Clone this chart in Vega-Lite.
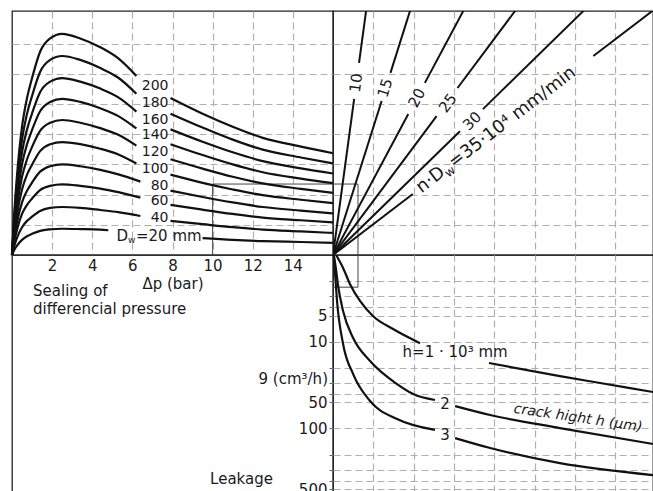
{
  "$schema": "https://vega.github.io/schema/vega-lite/v6.json",
  "padding": {"left": 6, "top": 10, "right": 0, "bottom": 0},
  "background": "white",
  "spacing": 0,
  "bounds": "flush",
  "columns": 2,
  "config": {
    "view": {"stroke": "#222", "strokeWidth": 1.3},
    "font": "DejaVu Sans",
    "text": {"font": "DejaVu Sans", "fontSize": 15, "color": "#1a1a1a"},
    "line": {"color": "#111", "strokeWidth": 2.2},
    "axis": {
      "gridColor": "#b0b0b0", "gridDash": [7, 4], "gridWidth": 1.2,
      "domain": false, "ticks": false, "labels": false, "minExtent": 0,
      "labelFont": "DejaVu Sans", "labelFontSize": 15, "labelColor": "#1a1a1a",
      "titleFont": "DejaVu Sans", "titleFontSize": 15, "titleFontWeight": "normal", "titleColor": "#1a1a1a"
    }
  },
  "datasets": {
    "tl_curves": [
      {"D":200,"s":"a","dp":0,"v":0},{"D":200,"s":"a","dp":0.1,"v":1.24},{"D":200,"s":"a","dp":0.25,"v":2.64},{"D":200,"s":"a","dp":0.5,"v":4.25},{"D":200,"s":"a","dp":0.75,"v":5.2},{"D":200,"s":"a","dp":1.0,"v":5.86},{"D":200,"s":"a","dp":1.4,"v":6.73},{"D":200,"s":"a","dp":1.9,"v":7.17},{"D":200,"s":"a","dp":2.5,"v":7.32},{"D":200,"s":"a","dp":3.4,"v":7.17},{"D":200,"s":"a","dp":4.4,"v":6.88},{"D":200,"s":"a","dp":5.3,"v":6.51},{"D":200,"s":"a","dp":6.2,"v":5.93},
      {"D":200,"s":"b","dp":7.9,"v":5.2},{"D":200,"s":"b","dp":9.5,"v":4.68},{"D":200,"s":"b","dp":11,"v":4.25},{"D":200,"s":"b","dp":12.5,"v":3.88},{"D":200,"s":"b","dp":14.4,"v":3.59},{"D":200,"s":"b","dp":16,"v":3.37},
      {"D":180,"s":"a","dp":0,"v":0},{"D":180,"s":"a","dp":0.1,"v":1.12},{"D":180,"s":"a","dp":0.25,"v":2.37},{"D":180,"s":"a","dp":0.5,"v":3.82},{"D":180,"s":"a","dp":0.75,"v":4.68},{"D":180,"s":"a","dp":1.0,"v":5.27},{"D":180,"s":"a","dp":1.4,"v":6.06},{"D":180,"s":"a","dp":1.9,"v":6.46},{"D":180,"s":"a","dp":2.5,"v":6.59},{"D":180,"s":"a","dp":3.4,"v":6.46},{"D":180,"s":"a","dp":4.4,"v":6.19},{"D":180,"s":"a","dp":5.3,"v":5.87},{"D":180,"s":"a","dp":6.2,"v":5.34},
      {"D":180,"s":"b","dp":7.9,"v":4.68},{"D":180,"s":"b","dp":9.5,"v":4.22},{"D":180,"s":"b","dp":11,"v":3.82},{"D":180,"s":"b","dp":12.5,"v":3.49},{"D":180,"s":"b","dp":14.4,"v":3.23},{"D":180,"s":"b","dp":16,"v":3.03},
      {"D":160,"s":"a","dp":0,"v":0},{"D":160,"s":"a","dp":0.1,"v":1.0},{"D":160,"s":"a","dp":0.25,"v":2.11},{"D":160,"s":"a","dp":0.5,"v":3.4},{"D":160,"s":"a","dp":0.75,"v":4.16},{"D":160,"s":"a","dp":1.0,"v":4.69},{"D":160,"s":"a","dp":1.4,"v":5.39},{"D":160,"s":"a","dp":1.9,"v":5.74},{"D":160,"s":"a","dp":2.5,"v":5.86},{"D":160,"s":"a","dp":3.4,"v":5.74},{"D":160,"s":"a","dp":4.4,"v":5.51},{"D":160,"s":"a","dp":5.3,"v":5.22},{"D":160,"s":"a","dp":6.2,"v":4.75},
      {"D":160,"s":"b","dp":7.9,"v":4.16},{"D":160,"s":"b","dp":9.5,"v":3.75},{"D":160,"s":"b","dp":11,"v":3.4},{"D":160,"s":"b","dp":12.5,"v":3.11},{"D":160,"s":"b","dp":14.4,"v":2.87},{"D":160,"s":"b","dp":16,"v":2.7},
      {"D":140,"s":"a","dp":0,"v":0},{"D":140,"s":"a","dp":0.1,"v":0.88},{"D":140,"s":"a","dp":0.25,"v":1.86},{"D":140,"s":"a","dp":0.5,"v":3.0},{"D":140,"s":"a","dp":0.75,"v":3.67},{"D":140,"s":"a","dp":1.0,"v":4.14},{"D":140,"s":"a","dp":1.4,"v":4.76},{"D":140,"s":"a","dp":1.9,"v":5.07},{"D":140,"s":"a","dp":2.5,"v":5.17},{"D":140,"s":"a","dp":3.4,"v":5.07},{"D":140,"s":"a","dp":4.4,"v":4.86},{"D":140,"s":"a","dp":5.3,"v":4.6},{"D":140,"s":"a","dp":6.2,"v":4.19},
      {"D":140,"s":"b","dp":7.9,"v":3.67},{"D":140,"s":"b","dp":9.5,"v":3.31},{"D":140,"s":"b","dp":11,"v":3.0},{"D":140,"s":"b","dp":12.5,"v":2.74},{"D":140,"s":"b","dp":14.4,"v":2.53},{"D":140,"s":"b","dp":16,"v":2.38},
      {"D":120,"s":"a","dp":0,"v":0},{"D":120,"s":"a","dp":0.1,"v":0.76},{"D":120,"s":"a","dp":0.25,"v":1.61},{"D":120,"s":"a","dp":0.5,"v":2.59},{"D":120,"s":"a","dp":0.75,"v":3.17},{"D":120,"s":"a","dp":1.0,"v":3.58},{"D":120,"s":"a","dp":1.4,"v":4.11},{"D":120,"s":"a","dp":1.9,"v":4.38},{"D":120,"s":"a","dp":2.5,"v":4.47},{"D":120,"s":"a","dp":3.4,"v":4.38},{"D":120,"s":"a","dp":4.4,"v":4.2},{"D":120,"s":"a","dp":5.3,"v":3.98},{"D":120,"s":"a","dp":6.2,"v":3.62},
      {"D":120,"s":"b","dp":7.9,"v":3.17},{"D":120,"s":"b","dp":9.5,"v":2.86},{"D":120,"s":"b","dp":11,"v":2.59},{"D":120,"s":"b","dp":12.5,"v":2.37},{"D":120,"s":"b","dp":14.4,"v":2.19},{"D":120,"s":"b","dp":16,"v":2.06},
      {"D":100,"s":"a","dp":0,"v":0},{"D":100,"s":"a","dp":0.1,"v":0.64},{"D":100,"s":"a","dp":0.25,"v":1.35},{"D":100,"s":"a","dp":0.5,"v":2.17},{"D":100,"s":"a","dp":0.75,"v":2.66},{"D":100,"s":"a","dp":1.0,"v":2.99},{"D":100,"s":"a","dp":1.4,"v":3.44},{"D":100,"s":"a","dp":1.9,"v":3.67},{"D":100,"s":"a","dp":2.5,"v":3.74},{"D":100,"s":"a","dp":3.4,"v":3.67},{"D":100,"s":"a","dp":4.4,"v":3.52},{"D":100,"s":"a","dp":5.3,"v":3.33},{"D":100,"s":"a","dp":6.2,"v":3.03},
      {"D":100,"s":"b","dp":7.9,"v":2.66},{"D":100,"s":"b","dp":9.5,"v":2.39},{"D":100,"s":"b","dp":11,"v":2.17},{"D":100,"s":"b","dp":12.5,"v":1.98},{"D":100,"s":"b","dp":14.4,"v":1.83},{"D":100,"s":"b","dp":16,"v":1.72},
      {"D":80,"s":"a","dp":0,"v":0},{"D":80,"s":"a","dp":0.1,"v":0.51},{"D":80,"s":"a","dp":0.25,"v":1.08},{"D":80,"s":"a","dp":0.5,"v":1.74},{"D":80,"s":"a","dp":0.75,"v":2.13},{"D":80,"s":"a","dp":1.0,"v":2.4},{"D":80,"s":"a","dp":1.4,"v":2.76},{"D":80,"s":"a","dp":1.9,"v":2.94},{"D":80,"s":"a","dp":2.5,"v":3.0},{"D":80,"s":"a","dp":3.4,"v":2.94},{"D":80,"s":"a","dp":4.4,"v":2.82},{"D":80,"s":"a","dp":5.3,"v":2.67},{"D":80,"s":"a","dp":6.4,"v":2.43},
      {"D":80,"s":"b","dp":7.9,"v":2.13},{"D":80,"s":"b","dp":9.5,"v":1.92},{"D":80,"s":"b","dp":11,"v":1.74},{"D":80,"s":"b","dp":12.5,"v":1.59},{"D":80,"s":"b","dp":14.4,"v":1.47},{"D":80,"s":"b","dp":16,"v":1.38},
      {"D":60,"s":"a","dp":0,"v":0},{"D":60,"s":"a","dp":0.1,"v":0.4},{"D":60,"s":"a","dp":0.25,"v":0.84},{"D":60,"s":"a","dp":0.5,"v":1.36},{"D":60,"s":"a","dp":0.75,"v":1.66},{"D":60,"s":"a","dp":1.0,"v":1.87},{"D":60,"s":"a","dp":1.4,"v":2.15},{"D":60,"s":"a","dp":1.9,"v":2.29},{"D":60,"s":"a","dp":2.5,"v":2.34},{"D":60,"s":"a","dp":3.4,"v":2.29},{"D":60,"s":"a","dp":4.4,"v":2.2},{"D":60,"s":"a","dp":5.3,"v":2.08},{"D":60,"s":"a","dp":6.4,"v":1.9},
      {"D":60,"s":"b","dp":7.9,"v":1.66},{"D":60,"s":"b","dp":9.5,"v":1.5},{"D":60,"s":"b","dp":11,"v":1.36},{"D":60,"s":"b","dp":12.5,"v":1.24},{"D":60,"s":"b","dp":14.4,"v":1.15},{"D":60,"s":"b","dp":16,"v":1.08},
      {"D":40,"s":"a","dp":0,"v":0},{"D":40,"s":"a","dp":0.1,"v":0.27},{"D":40,"s":"a","dp":0.25,"v":0.57},{"D":40,"s":"a","dp":0.5,"v":0.92},{"D":40,"s":"a","dp":0.75,"v":1.13},{"D":40,"s":"a","dp":1.0,"v":1.27},{"D":40,"s":"a","dp":1.4,"v":1.46},{"D":40,"s":"a","dp":1.9,"v":1.56},{"D":40,"s":"a","dp":2.5,"v":1.59},{"D":40,"s":"a","dp":3.4,"v":1.56},{"D":40,"s":"a","dp":4.4,"v":1.49},{"D":40,"s":"a","dp":5.3,"v":1.42},{"D":40,"s":"a","dp":6.4,"v":1.29},
      {"D":40,"s":"b","dp":7.9,"v":1.13},{"D":40,"s":"b","dp":9.5,"v":1.02},{"D":40,"s":"b","dp":11,"v":0.92},{"D":40,"s":"b","dp":12.5,"v":0.84},{"D":40,"s":"b","dp":14.4,"v":0.78},{"D":40,"s":"b","dp":16,"v":0.73},
      {"D":20,"s":"a","dp":0,"v":0},{"D":20,"s":"a","dp":0.1,"v":0.15},{"D":20,"s":"a","dp":0.25,"v":0.31},{"D":20,"s":"a","dp":0.5,"v":0.5},{"D":20,"s":"a","dp":0.75,"v":0.62},{"D":20,"s":"a","dp":1.0,"v":0.7},{"D":20,"s":"a","dp":1.4,"v":0.8},{"D":20,"s":"a","dp":1.9,"v":0.85},{"D":20,"s":"a","dp":2.5,"v":0.87},{"D":20,"s":"a","dp":3.4,"v":0.86},{"D":20,"s":"a","dp":4.4,"v":0.84},{"D":20,"s":"a","dp":4.8,"v":0.82},
      {"D":20,"s":"b","dp":9.5,"v":0.56},{"D":20,"s":"b","dp":11,"v":0.5},{"D":20,"s":"b","dp":12.5,"v":0.46},{"D":20,"s":"b","dp":14.4,"v":0.43},{"D":20,"s":"b","dp":16,"v":0.4}
    ],
    "tl_labels": [
      {"label":"200","dp":7.8,"v":5.6},{"label":"180","dp":7.8,"v":5.04},{"label":"160","dp":7.8,"v":4.48},
      {"label":"140","dp":7.8,"v":3.96},{"label":"120","dp":7.8,"v":3.42},{"label":"100","dp":7.8,"v":2.86},
      {"label":"80","dp":7.8,"v":2.3},{"label":"60","dp":7.8,"v":1.79},{"label":"40","dp":7.8,"v":1.22}
    ],
    "tl_dw": [{"dp":6.18,"v":0.63}],
    "tl_path": [{"i":1,"dp":10,"v":0},{"i":2,"dp":10,"v":2.35},{"i":3,"dp":16,"v":2.35}],
    "tr_lines": [
      {"n":10,"s":"a","u":0,"v":0},{"n":10,"s":"a","u":0.525,"v":5.17},{"n":10,"s":"b","u":0.646,"v":6.36},{"n":10,"s":"b","u":0.843,"v":8.3},
      {"n":15,"s":"a","u":0,"v":0},{"n":15,"s":"a","u":1.206,"v":5.1},{"n":15,"s":"b","u":1.426,"v":6.03},{"n":15,"s":"b","u":1.962,"v":8.3},
      {"n":20,"s":"a","u":0,"v":0},{"n":20,"s":"a","u":1.868,"v":4.67},{"n":20,"s":"b","u":2.28,"v":5.7},{"n":20,"s":"b","u":3.32,"v":8.3},
      {"n":25,"s":"a","u":0,"v":0},{"n":25,"s":"a","u":2.57,"v":4.6},{"n":25,"s":"b","u":3.09,"v":5.53},{"n":25,"s":"b","u":4.64,"v":8.3},
      {"n":30,"s":"a","u":0,"v":0},{"n":30,"s":"a","u":3.15,"v":4.1},{"n":30,"s":"b","u":3.72,"v":4.83},{"n":30,"s":"b","u":6.38,"v":8.3},
      {"n":35,"s":"a","u":0,"v":0},{"n":35,"s":"a","u":1.98,"v":2.02},{"n":35,"s":"b","u":6.46,"v":6.59},{"n":35,"s":"b","u":8.14,"v":8.3}
    ],
    "tr_labels": [
      {"label":"10","u":0.57,"v":5.7},{"label":"15","u":1.29,"v":5.53},{"label":"20","u":2.08,"v":5.2},
      {"label":"25","u":2.85,"v":5.03},{"label":"30","u":3.45,"v":4.44}
    ],
    "tr_formula": [{"u":2.08,"v":2.13}],
    "tr_path": [{"i":1,"u":0,"v":2.35},{"i":2,"u":0.62,"v":2.35},{"i":3,"u":0.62,"v":0}],
    "br_curves": [
      {"h":1,"s":"a","u":0.08,"q":1.0},{"h":1,"s":"a","u":0.15,"q":1.15},{"h":1,"s":"a","u":0.25,"q":1.41},{"h":1,"s":"a","u":0.42,"q":2.16},{"h":1,"s":"a","u":0.67,"q":3.39},{"h":1,"s":"a","u":0.99,"q":5.05},{"h":1,"s":"a","u":1.49,"q":7.14},{"h":1,"s":"a","u":2.16,"q":10.4},
      {"h":1,"s":"b","u":3.87,"q":17.6},{"h":1,"s":"b","u":5.63,"q":24.9},{"h":1,"s":"b","u":6.63,"q":29.9},{"h":1,"s":"b","u":7.94,"q":38.0},
      {"h":2,"s":"a","u":0.02,"q":1.0},{"h":2,"s":"a","u":0.07,"q":1.41},{"h":2,"s":"a","u":0.12,"q":2.16},{"h":2,"s":"a","u":0.25,"q":4.43},{"h":2,"s":"a","u":0.5,"q":9.06},{"h":2,"s":"a","u":0.92,"q":16.7},{"h":2,"s":"a","u":1.59,"q":30.8},{"h":2,"s":"a","u":1.99,"q":40.1},{"h":2,"s":"a","u":2.53,"q":47.0},
      {"h":2,"s":"b","u":3.03,"q":55.2},{"h":2,"s":"b","u":3.9,"q":70.0},{"h":2,"s":"b","u":5.63,"q":98.9},{"h":2,"s":"b","u":7.94,"q":151},
      {"h":3,"s":"a","u":0.02,"q":1.0},{"h":3,"s":"a","u":0.05,"q":1.61},{"h":3,"s":"a","u":0.1,"q":3.39},{"h":3,"s":"a","u":0.25,"q":10.6},{"h":3,"s":"a","u":0.5,"q":23.6},{"h":3,"s":"a","u":0.92,"q":48.3},{"h":3,"s":"a","u":1.59,"q":77.9},{"h":3,"s":"a","u":2.53,"q":104},
      {"h":3,"s":"b","u":3.03,"q":129},{"h":3,"s":"b","u":3.9,"q":168},{"h":3,"s":"b","u":5.63,"q":251},{"h":3,"s":"b","u":7.94,"q":345}
    ],
    "br_labels": [
      {"label":"h=1 · 10³ mm","u":3.03,"q":13.1},{"label":"2","u":2.78,"q":52.3},{"label":"3","u":2.78,"q":119}
    ],
    "br_crack": [{"label":"crack hight h (µm)","u":6.08,"q":75.9}],
    "br_path": [{"i":1,"u":0.62,"q":1},{"i":2,"u":0.62,"q":2.35},{"i":3,"u":0,"q":2.35}],
    "bl_texts": [
      {"label":"Sealing of","dp":1.05,"q":2.6},
      {"label":"differencial pressure","dp":1.05,"q":4.2},
      {"label":"Leakage","dp":11.44,"q":384},
      {"label":"9 (cm³/h)","dp":15.75,"q":26.9}
    ]
  },
  "concat": [
    {
      "width": 321, "height": 244,
      "encoding": {
        "x": {"field": "dp", "type": "quantitative", "scale": {"domain": [0, 16], "nice": false, "zero": false},
              "axis": {"orient": "bottom", "values": [2,4,6,8,10,12,14], "grid": true, "labels": true, "labelPadding": 3, "title": "Δp (bar)", "titlePadding": 3}},
        "y": {"field": "v", "type": "quantitative", "scale": {"domain": [0, 8.08], "nice": false, "zero": false},
              "axis": {"values": [1,2,3,4,5,6,7], "grid": true, "labels": false, "title": null}}
      },
      "layer": [
        {"data": {"name": "tl_path"}, "mark": {"type": "line", "color": "#444", "strokeWidth": 1}, "encoding": {"order": {"field": "i", "type": "quantitative"}}},
        {"data": {"name": "tl_curves"}, "mark": {"type": "line", "interpolate": "monotone"}, "encoding": {"detail": [{"field": "D", "type": "nominal"}, {"field": "s", "type": "nominal"}]}},
        {"data": {"name": "tl_labels"}, "mark": {"type": "text", "align": "right", "baseline": "middle", "fontSize": 14}, "encoding": {"text": {"field": "label", "type": "nominal"}}},
        {"data": {"name": "tl_dw"}, "mark": {"type": "text", "text": "D", "align": "right", "baseline": "middle", "dx": -8}},
        {"data": {"name": "tl_dw"}, "mark": {"type": "text", "text": "w", "align": "left", "baseline": "middle", "dx": -8, "dy": 4, "fontSize": 9}},
        {"data": {"name": "tl_dw"}, "mark": {"type": "text", "text": "=20 mm", "align": "left", "baseline": "middle"}}
      ]
    },
    {
      "width": 320, "height": 244,
      "encoding": {
        "x": {"field": "u", "type": "quantitative", "scale": {"domain": [0, 7.94], "nice": false, "zero": false},
              "axis": {"values": [1,2,3,4,5,6,7], "grid": true, "labels": false, "title": null}},
        "y": {"field": "v", "type": "quantitative", "scale": {"domain": [0, 8.08], "nice": false, "zero": false},
              "axis": {"values": [1,2,3,4,5,6,7], "grid": true, "labels": false, "title": null}}
      },
      "layer": [
        {"data": {"name": "tr_path"}, "mark": {"type": "line", "color": "#444", "strokeWidth": 1}, "encoding": {"order": {"field": "i", "type": "quantitative"}}},
        {"data": {"name": "tr_lines"}, "mark": {"type": "line", "clip": true, "strokeWidth": 2}, "encoding": {"detail": [{"field": "n", "type": "nominal"}, {"field": "s", "type": "nominal"}]}},
        {"data": {"name": "tr_labels"}, "transform": [{"filter": "datum.label == '10'"}], "mark": {"type": "text", "angle": -82.3, "align": "center", "baseline": "middle"}, "encoding": {"text": {"field": "label", "type": "nominal"}}},
        {"data": {"name": "tr_labels"}, "transform": [{"filter": "datum.label == '15'"}], "mark": {"type": "text", "angle": -72.5, "align": "center", "baseline": "middle"}, "encoding": {"text": {"field": "label", "type": "nominal"}}},
        {"data": {"name": "tr_labels"}, "transform": [{"filter": "datum.label == '20'"}], "mark": {"type": "text", "angle": -62, "align": "center", "baseline": "middle"}, "encoding": {"text": {"field": "label", "type": "nominal"}}},
        {"data": {"name": "tr_labels"}, "transform": [{"filter": "datum.label == '25'"}], "mark": {"type": "text", "angle": -53.3, "align": "center", "baseline": "middle"}, "encoding": {"text": {"field": "label", "type": "nominal"}}},
        {"data": {"name": "tr_labels"}, "transform": [{"filter": "datum.label == '30'"}], "mark": {"type": "text", "angle": -44.2, "align": "center", "baseline": "middle"}, "encoding": {"text": {"field": "label", "type": "nominal"}}},
        {"data": {"name": "tr_formula"}, "mark": {"type": "text", "text": "n·D", "angle": -37.4, "align": "left", "baseline": "middle", "dx": 2, "fontSize": 18}},
        {"data": {"name": "tr_formula"}, "mark": {"type": "text", "text": "w", "angle": -37.4, "align": "left", "baseline": "middle", "dx": 33, "dy": 5, "fontSize": 12}},
        {"data": {"name": "tr_formula"}, "mark": {"type": "text", "text": "=35·10⁴ mm/min", "angle": -37.4, "align": "left", "baseline": "middle", "dx": 43, "fontSize": 18}}
      ]
    },
    {
      "width": 321, "height": 237,
      "encoding": {
        "x": {"field": "dp", "type": "quantitative", "scale": {"domain": [0, 16], "nice": false, "zero": false}, "axis": null},
        "y": {"field": "q", "type": "quantitative", "scale": {"type": "log", "domain": [1, 540], "reverse": true, "nice": false}, "axis": null}
      },
      "layer": [
        {"data": {"name": "bl_texts"}, "transform": [{"filter": "datum.label == 'Sealing of' || datum.label == 'differencial pressure'"}], "mark": {"type": "text", "align": "left", "baseline": "middle"}, "encoding": {"text": {"field": "label", "type": "nominal"}}},
        {"data": {"name": "bl_texts"}, "transform": [{"filter": "datum.label == 'Leakage'"}], "mark": {"type": "text", "align": "center", "baseline": "middle"}, "encoding": {"text": {"field": "label", "type": "nominal"}}},
        {"data": {"name": "bl_texts"}, "transform": [{"filter": "datum.label == '9 (cm³/h)'"}], "mark": {"type": "text", "align": "right", "baseline": "middle"}, "encoding": {"text": {"field": "label", "type": "nominal"}}}
      ]
    },
    {
      "width": 320, "height": 237,
      "encoding": {
        "x": {"field": "u", "type": "quantitative", "scale": {"domain": [0, 7.94], "nice": false, "zero": false},
              "axis": {"values": [1,2,3,4,5,6,7], "grid": true, "labels": false, "title": null}},
        "y": {"field": "q", "type": "quantitative", "scale": {"type": "log", "domain": [1, 540], "reverse": true, "nice": false},
              "axis": {"orient": "left", "values": [2,3,4,5,10,20,30,40,50,100,200,300,400,500], "grid": true, "labels": true, "format": "d",
                       "labelExpr": "indexof([5,10,50,100,500], datum.value) >= 0 ? datum.label : ''",
                       "ticks": true, "tickSize": 4, "tickColor": "#666", "tickWidth": 1, "labelPadding": 2, "title": null}}
      },
      "layer": [
        {"data": {"name": "br_path"}, "mark": {"type": "line", "color": "#444", "strokeWidth": 1}, "encoding": {"order": {"field": "i", "type": "quantitative"}}},
        {"data": {"name": "br_curves"}, "mark": {"type": "line", "interpolate": "monotone", "clip": true}, "encoding": {"detail": [{"field": "h", "type": "nominal"}, {"field": "s", "type": "nominal"}]}},
        {"data": {"name": "br_labels"}, "mark": {"type": "text", "align": "center", "baseline": "middle"}, "encoding": {"text": {"field": "label", "type": "nominal"}}},
        {"data": {"name": "br_crack"}, "mark": {"type": "text", "align": "center", "baseline": "middle", "angle": 8.3, "fontStyle": "italic", "fontSize": 14}, "encoding": {"text": {"field": "label", "type": "nominal"}}}
      ]
    }
  ]
}
